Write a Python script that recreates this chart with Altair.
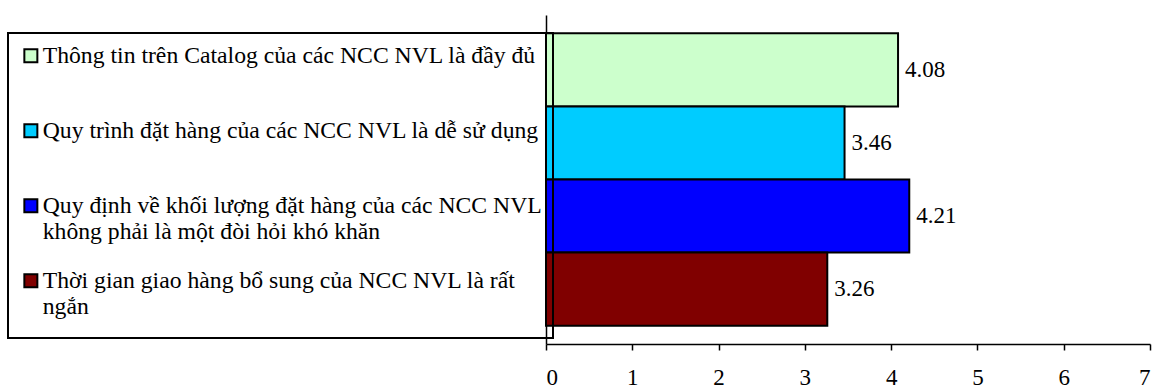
import altair as alt
import pandas as pd

categories = [
    "Thông tin trên Catalog của các NCC NVL là đầy đủ",
    "Quy trình đặt hàng của các NCC NVL là dễ sử dụng",
    "Quy định về khối lượng đặt hàng của các NCC NVL|không phải là một đòi hỏi khó khăn",
    "Thời gian giao hàng bổ sung của NCC NVL là rất|ngắn",
]
values = [4.08, 3.46, 4.21, 3.26]
colors = ["#CCFFCC", "#00CCFF", "#0000FF", "#800000"]
x_ticks = [0, 1, 2, 3, 4, 5, 6, 7]

df = pd.DataFrame({"item": categories, "score": values})

FONT = "Liberation Serif"
FS = 23
LEG_FS = 23.7

y_enc = alt.Y(
    "item:N",
    sort=categories,
    scale=alt.Scale(paddingInner=0, paddingOuter=0.25),
    axis=alt.Axis(labels=False, ticks=False, title=None, domainColor="black", domainWidth=1.5),
)
x_enc = alt.X(
    "score:Q",
    scale=alt.Scale(domain=[0, 7], nice=False),
    axis=alt.Axis(
        values=x_ticks,
        title=None,
        grid=False,
        labelFont=FONT,
        labelFontSize=FS,
        labelColor="black",
        tickColor="black",
        tickSize=6,
        tickWidth=1.5,
        domainColor="black",
        domainWidth=1.5,
        labelPadding=16,
        format="d",
    ),
)

bars = alt.Chart(df).mark_bar(stroke="black", strokeWidth=2, opacity=1).encode(
    x=x_enc,
    y=y_enc,
    color=alt.Color(
        "item:N",
        sort=categories,
        scale=alt.Scale(domain=categories, range=colors),
        legend=alt.Legend(
            orient="none",
            legendX=-538,
            legendY=18,
            title=" ",
            titleOrient="bottom",
            titleFontSize=1,
            titlePadding=8,
            labelFont=FONT,
            labelFontSize=LEG_FS,
            labelColor="black",
            labelLimit=800,
            labelExpr="split(datum.label, '|')",
            symbolType="square",
            symbolSize=169,
            symbolStrokeColor="black",
            symbolStrokeWidth=2,
            symbolOpacity=1,
            labelOffset=0,
            rowPadding=24,
            gridAlign="all",
        ),
    ),
)

labels = alt.Chart(df).mark_text(
    align="left", baseline="middle", dx=7, font=FONT, fontSize=FS, color="black"
).encode(
    x=alt.X("score:Q"),
    y=alt.Y("item:N", sort=categories),
    text=alt.Text("score:Q", format=".2f"),
)

chart = (
    alt.layer(bars, labels)
    .properties(
        width=604,
        height=329,
        padding={"left": 546, "top": 15, "right": 10, "bottom": 44},
        autosize=alt.AutoSizeParams(type="none"),
        background="white",
    )
    .configure_view(stroke=None)
    .configure_legend(strokeColor="black", strokeWidth=2, padding=11)
)

chart.save("out.html", embed_options={"renderer": "svg", "actions": False})
